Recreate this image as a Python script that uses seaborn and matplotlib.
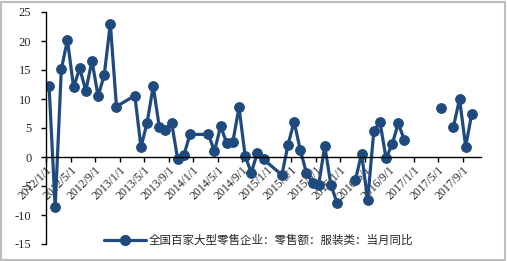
import numpy as np
import pandas as pd
import matplotlib
matplotlib.use("Agg")
import matplotlib.pyplot as plt
import seaborn as sns
from matplotlib.patches import Rectangle
from matplotlib.lines import Line2D

# ---- data (monthly, 2012/1 .. 2017/10) ----
months = pd.date_range("2012-01-01", "2017-10-01", freq="MS")
values = [
    12.3, -8.7, 15.1, 20.2, 12.0, 15.3, 11.4, 16.6, 10.5, 14.1, 23.0, 8.7,      # 2012
    np.nan, np.nan, 10.6, 1.7, 5.9, 12.2, 5.1, 4.7, 5.9, -0.4, 0.3, 3.9,        # 2013
    np.nan, np.nan, 3.9, 1.0, 5.3, 2.4, 2.6, 8.6, 0.2, -2.7, 0.7, -0.4,         # 2014
    np.nan, np.nan, -3.1, 2.1, 6.1, 1.2, -2.7, -4.4, -4.8, 1.9, -4.8, -7.9,     # 2015
    np.nan, np.nan, -4.0, 0.6, -7.4, 4.4, 6.1, -0.2, 2.2, 5.8, 2.9, np.nan,     # 2016
    np.nan, np.nan, np.nan, np.nan, 8.4, np.nan, 5.2, 10.0, 1.8, 7.5,           # 2017
]
# connected runs of the line, as drawn in the source chart
segment = (["a"] * 48 + ["b"] * 11 + ["c"] * 6 + ["d"] * 5)
tick_labels = ["2012/1/1", "2012/5/1", "2012/9/1", "2013/1/1", "2013/5/1", "2013/9/1",
               "2014/1/1", "2014/5/1", "2014/9/1", "2015/1/1", "2015/5/1", "2015/9/1",
               "2016/1/1", "2016/5/1", "2016/9/1", "2017/1/1", "2017/5/1", "2017/9/1"]
series_name = "全国百家大型零售企业：零售额：服装类：当月同比"
y_ticks = [25, 20, 15, 10, 5, 0, -5, -10, -15]

df = pd.DataFrame({"month": months, "value": values, "segment": segment})
df["idx"] = np.arange(len(df))
df = df.dropna(subset=["value"])

sns.set_theme(style="white")
plt.rcParams["font.family"] = ["Liberation Serif", "Noto Sans CJK SC", "DejaVu Sans"]
plt.rcParams["xtick.bottom"] = True
plt.rcParams["ytick.left"] = True

color = "#1F4A7E"
fig = plt.figure(figsize=(5.07, 2.61), dpi=100)
ax = fig.add_axes([46 / 507, 1 - 244 / 261, (481 - 46) / 507, (244 - 12) / 261])

sns.lineplot(data=df, x="idx", y="value", units="segment", estimator=None,
             color=color, marker="o", markersize=7, markeredgecolor=color,
             linewidth=2.3, ax=ax, legend=False)

ax.spines["top"].set_visible(False)
ax.spines["right"].set_visible(False)
ax.spines["bottom"].set_position(("data", 0))
for s in ("left", "bottom"):
    ax.spines[s].set_color("black")
    ax.spines[s].set_linewidth(1.0)

ax.set_xlim(-0.5, 70.5)
ax.set_ylim(-15, 25)
ax.set_yticks(y_ticks)
ax.set_yticklabels([str(v) for v in y_ticks], fontsize=9, family="Liberation Serif")
tick_pos = [i * 4 - 0.5 for i in range(len(tick_labels))]
ax.set_xticks(tick_pos)
ax.set_xticklabels(tick_labels, rotation=45, ha="right", va="top",
                   rotation_mode="anchor", fontsize=8.5, family="Liberation Serif")
ax.set_xlabel("")
ax.set_ylabel("")

ax.tick_params(axis="x", direction="out", length=3.5, width=1, color="black", pad=1.5)
ax.tick_params(axis="y", direction="out", length=3.5, width=1, color="black", pad=7)
ax.grid(False)
ax.set_facecolor("white")

handle = Line2D([0], [0], color=color, linewidth=2.3, marker="o",
                markersize=7, markeredgecolor=color)
fig.legend([handle], [series_name], loc="center", bbox_to_anchor=(0.51, 0.08),
           frameon=False, handlelength=3.6, handletextpad=0.2,
           prop={"family": ["Noto Sans CJK SC"], "size": 8.3})

fig.patches.append(Rectangle((0.002, 0.004), 0.994, 0.99, transform=fig.transFigure,
                             fill=False, edgecolor="#bdbdbd", linewidth=1.5))

fig.savefig("out.png", dpi=100, facecolor="white")
